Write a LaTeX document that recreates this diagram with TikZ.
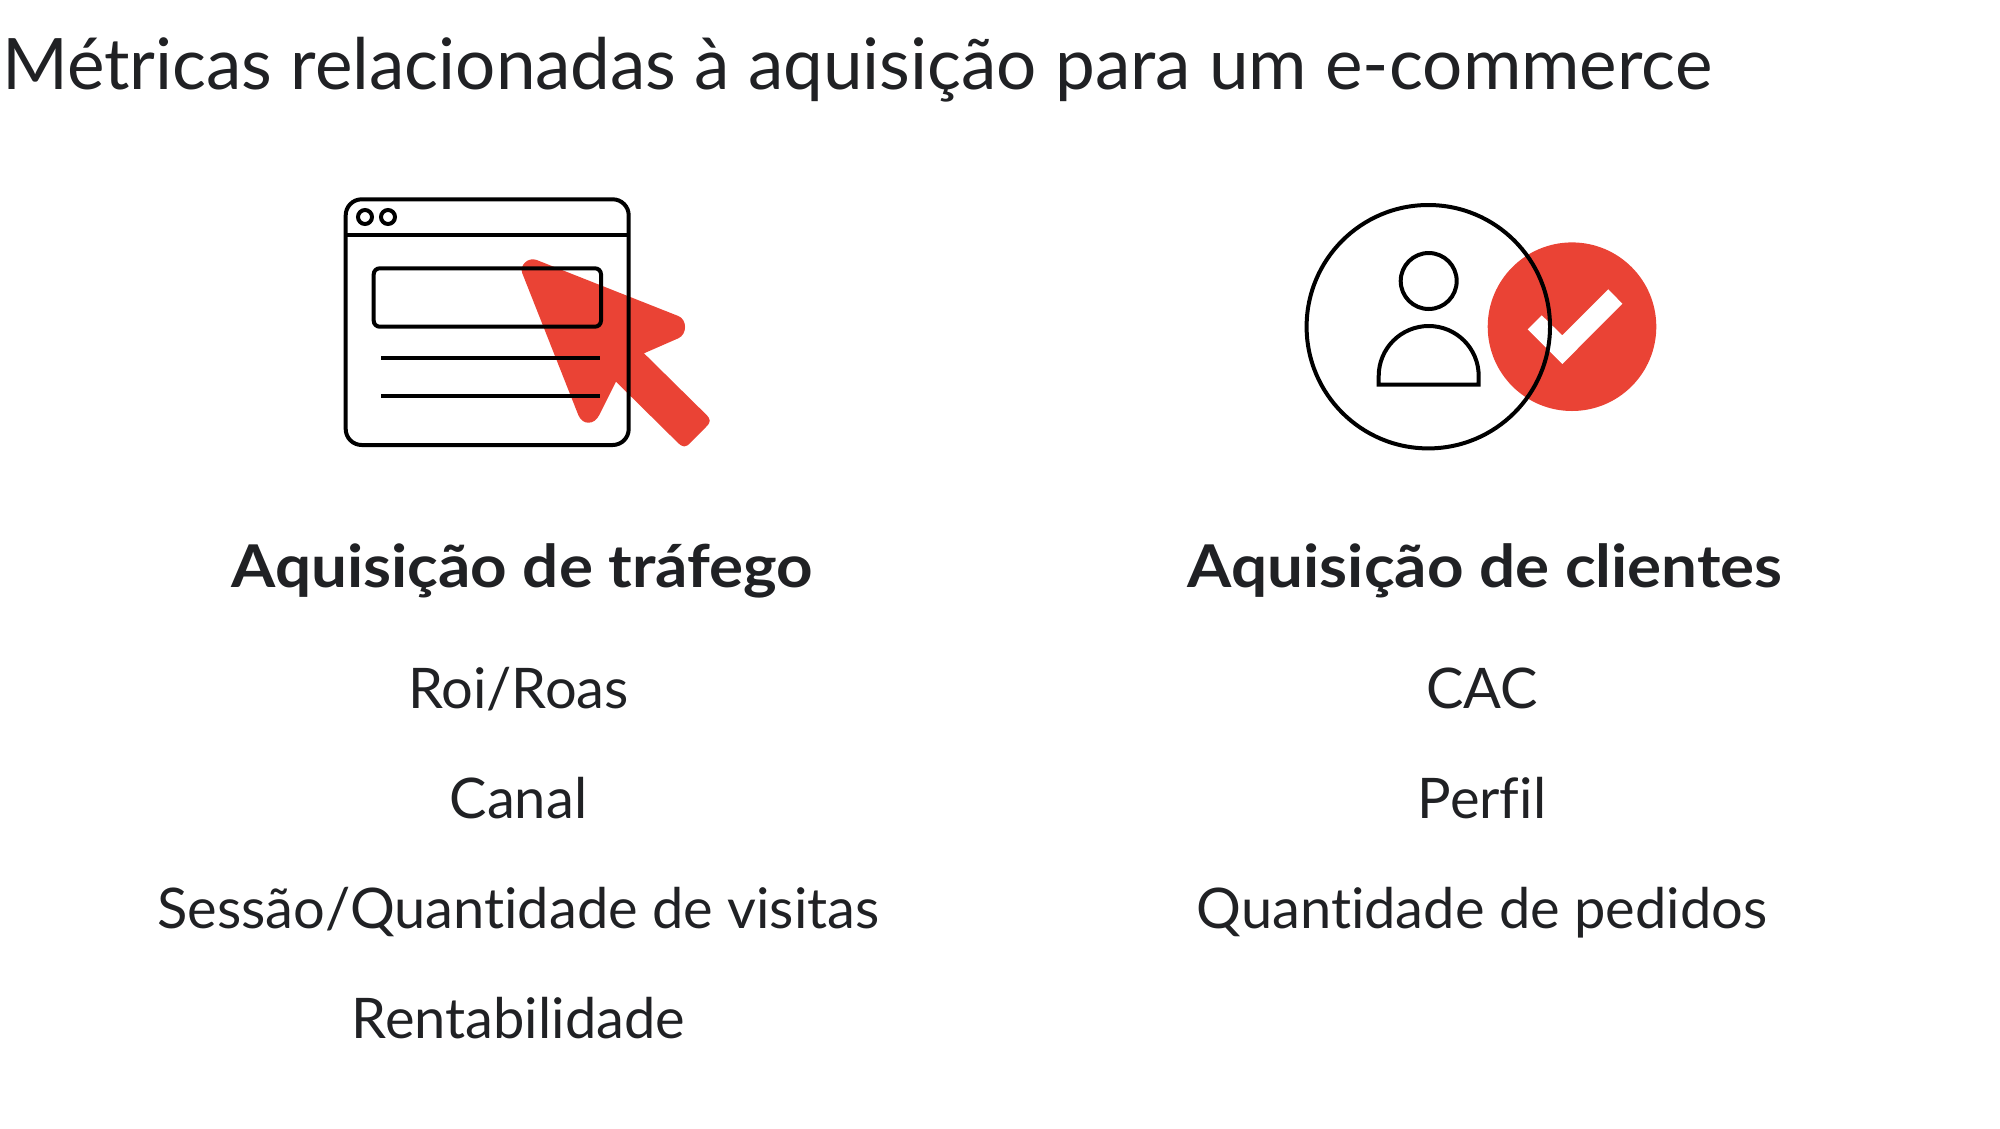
\documentclass[tikz,border=0pt]{standalone}
\usepackage{fontspec}
\setmainfont{Lato}[Ligatures=NoCommon]
\newfontfamily\headfont{Lato}[Ligatures=NoCommon,FakeStretch=1.08]
\usepackage{xcolor}
\definecolor{inkgray}{HTML}{202124}
\definecolor{iconred}{HTML}{EA4335}
\tikzset{
  titletext/.style={anchor=base west,inner sep=0pt,text=inkgray,font=\fontsize{71}{85}\selectfont},
  headtext/.style={anchor=base,inner sep=0pt,text=inkgray,font=\headfont\fontsize{59}{70}\selectfont\bfseries},
  itemtext/.style={anchor=base,inner sep=0pt,text=inkgray,font=\fontsize{56}{67}\selectfont},
  iconline/.style={line width=4pt,draw=black},
}
\begin{document}
\begin{tikzpicture}[x=1pt,y=-1pt]
        \useasboundingbox (0,0) rectangle (2000,1128);
        \node[titletext] (title) at (2,89.5) {Métricas relacionadas à aquisição para um e-commerce};
        % cursor
        \fill[iconred] (522.3,273.3) .. controls (519.1,265.2) and (528.3,256.7) .. (536.7,260) -- (678.3,316)
            .. controls (687.3,319.5) and (687.3,334.4) .. (678.3,338.3) -- (644,353.3) -- (706,414.4)
            .. controls (711,419.4) and (711,422) .. (706,427) -- (690.5,442.7)
            .. controls (685.5,447.7) and (683,447.7) .. (677.8,442.7) -- (616,381.7) -- (599.3,415)
            .. controls (594.2,425.3) and (582.4,425.3) .. (578.3,415) -- cycle;
        % browser window
        \draw[iconline,rounded corners=16] (345.7,199.3) rectangle (628.7,445);
        \draw[iconline] (345.7,234.7) -- (628.7,234.7);
        \draw[iconline] (365,217) circle[radius=7];
        \draw[iconline] (388,217) circle[radius=7];
        \draw[iconline,rounded corners=6] (373.7,268.3) rectangle (601,326.7);
        \draw[iconline] (381,358) -- (600,358);
        \draw[iconline] (381,396) -- (600,396);
        % customer
        \fill[iconred] (1572,326.7) circle[radius=84.3];
        \fill[white] (1527.7,329.3) -- (1541.7,315.3) -- (1562.3,335.3) -- (1608.3,289.3) -- (1622.3,303.7) -- (1562.3,364) -- cycle;
        \draw[iconline] (1428.3,326.7) circle[radius=121.7];
        \draw[iconline] (1428.7,281) circle[radius=28];
        \draw[iconline] (1378.7,384.7) -- (1378.7,376) arc (180:360:50) -- (1478.7,384.7) -- cycle;
        % left column
        \node[headtext] (trafego) at (522.3,587) {Aquisição de tráfego};
        \node[itemtext] (roi) at (518.5,708) {Roi/Roas};
        \node[itemtext] (canal) at (518.5,818) {Canal};
        \node[itemtext] (sessao) at (518.5,928) {Sessão/Quantidade de visitas};
        \node[itemtext] (rentab) at (518.5,1038) {Rentabilidade};
        % right column
        \node[headtext] (clientes) at (1485.3,587) {Aquisição de clientes};
        \node[itemtext] (cac) at (1482,708) {CAC};
        \node[itemtext] (perfil) at (1482,818) {Perfil};
        \node[itemtext] (pedidos) at (1482,928) {Quantidade de pedidos};
    \end{tikzpicture}
\end{document}
